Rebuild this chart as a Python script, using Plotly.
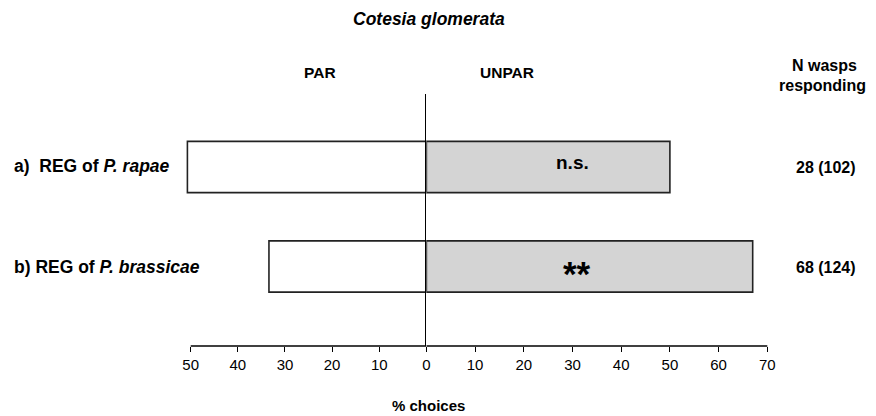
import plotly.graph_objects as go

# The page body has an 8px margin, so the figure starts at (8, 8) in the window.
OX, OY = 8, 8
W, H = 868, 408

# ---- data ----
rows = ["a)\u00a0 REG of <i>P. rapae</i>", "b) REG of <i>P. brassicae</i>"]
row_pos = [1, 0]
par_pct = [50.7, 33.4]      # % choosing PAR (plotted leftwards)
unpar_pct = [50.0, 67.0]    # % choosing UNPAR (plotted rightwards)
signif = ["n.s.", "**"]
n_resp = ["28 (102)", "68 (124)"]
left_ticks = [10, 20, 30, 40, 50]
right_ticks = [0, 10, 20, 30, 40, 50, 60, 70]

FONT = "Liberation Sans, Arial, sans-serif"

def px(x):
    return (x - OX) / W

def py(y):
    return 1 - (y - OY) / H

x0_pix = 427.7
left_scale = (x0_pix - 189.0) / 50.0
right_scale = (773.0 - x0_pix) / 70.0
left_max = 51.0
right_max = 70.3

fig = go.Figure()
fig.add_trace(go.Bar(
    x=par_pct, y=row_pos, orientation="h", xaxis="x", yaxis="y",
    width=0.515, marker=dict(color="white", line=dict(color="#222222", width=1.6)),
    hoverinfo="x"))
fig.add_trace(go.Bar(
    x=unpar_pct, y=row_pos, orientation="h", xaxis="x2", yaxis="y",
    width=0.515, marker=dict(color="#d4d4d4", line=dict(color="#222222", width=1.6)),
    hoverinfo="x"))

axis_bottom = 346
axis_top = 94
ydom = [py(axis_bottom), py(axis_top)]

tick_common = dict(ticks="outside", ticklen=5, tickwidth=1.2, tickcolor="black",
                   showgrid=False, zeroline=False, showline=False,
                   tickfont=dict(size=15, family=FONT), anchor="y")

fig.update_layout(
    width=W, height=H,
    margin=dict(l=0, r=0, t=0, b=0),
    paper_bgcolor="white", plot_bgcolor="rgba(0,0,0,0)",
    showlegend=False, barmode="overlay",
    font=dict(family=FONT, color="black"),
    xaxis=dict(domain=[px(x0_pix - left_max * left_scale), px(x0_pix)],
               range=[left_max, 0], tickvals=left_ticks, **tick_common),
    xaxis2=dict(domain=[px(x0_pix), px(x0_pix + right_max * right_scale)],
                range=[0, right_max], tickvals=right_ticks, **tick_common),
    yaxis=dict(domain=ydom, range=[-0.799, 1.734], showticklabels=False,
               ticks="", showgrid=False, zeroline=False,
               showline=True, linecolor="black", linewidth=1.3, anchor="x2"),
)

# horizontal axis line spanning 50 (left) to 70 (right)
fig.add_shape(type="line", xref="x", yref="paper", x0=50, x1=0,
              y0=ydom[0], y1=ydom[0], line=dict(color="black", width=1.3))
fig.add_shape(type="line", xref="x2", yref="paper", x0=0, x1=70,
              y0=ydom[0], y1=ydom[0], line=dict(color="black", width=1.3))

ann = []
ann.append(dict(text="<b><i>Cotesia glomerata</i></b>", x=px(430), y=1.0,
                yanchor="top", borderpad=0, font=dict(size=17.5)))
ann.append(dict(text="<b>PAR</b>", x=px(320), y=py(72), font=dict(size=15.5)))
ann.append(dict(text="<b>UNPAR</b>", x=px(509), y=py(72), font=dict(size=15.5)))
ann.append(dict(text="<b>N wasps</b>", x=px(831), y=py(66), font=dict(size=16)))
ann.append(dict(text="<b>responding</b>", x=px(829), y=py(85), font=dict(size=16)))
ann.append(dict(text="<b>% choices</b>", x=px(430), y=py(405), font=dict(size=15)))
label_y = [166, 267]
num_y = [168, 267]
for r, ly, ny, n in zip(rows, label_y, num_y, n_resp):
    ann.append(dict(text="<b>" + r + "</b>", x=px(OX), y=py(ly), xanchor="left",
                    font=dict(size=17.5)))
    ann.append(dict(text="<b>" + n + "</b>", x=px(832), y=py(ny), font=dict(size=16)))
ann.append(dict(text="<b>" + signif[0] + "</b>", x=px(576), y=py(162),
                font=dict(size=19)))
ann.append(dict(text="<b>" + signif[1] + "</b>", x=px(580), y=py(273),
                font=dict(size=35)))

for a in ann:
    a.setdefault("xanchor", "center")
    a.setdefault("yanchor", "middle")
    a.update(xref="paper", yref="paper", showarrow=False)
fig.update_layout(annotations=ann)

fig.write_html("out.html")
